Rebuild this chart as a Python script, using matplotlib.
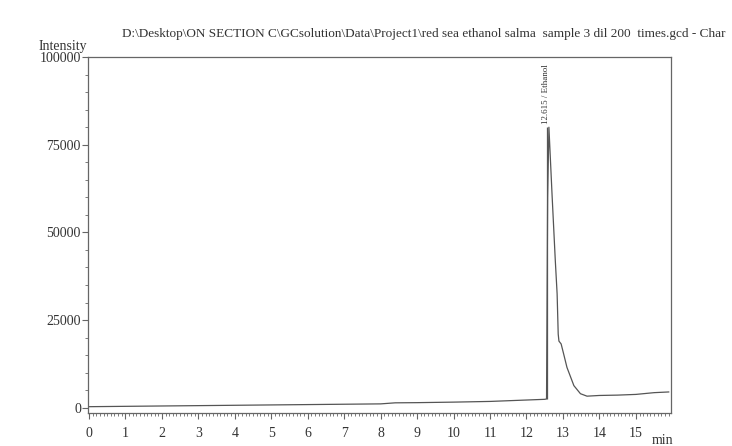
import matplotlib
matplotlib.use("Agg")
import matplotlib.pyplot as plt
from matplotlib.ticker import MultipleLocator

# chromatogram trace (time in min, intensity)
time_min = [0.0, 1.0, 2.0, 3.0, 4.0, 5.0, 6.0, 7.0, 8.0, 8.4, 9.0, 10.0, 11.0,
            12.0, 12.5, 12.55, 12.58, 12.615, 12.70, 12.79, 12.84, 12.87,
            12.89, 12.95, 13.02, 13.11, 13.30, 13.48, 13.66, 14.0, 14.5,
            15.0, 15.5, 15.9]
intensity = [300, 400, 500, 600, 700, 800, 900, 1000, 1100, 1400, 1450, 1600,
             1800, 2200, 2400, 2500, 60000, 80000, 61000, 42000, 32500, 21000,
             19000, 18200, 15300, 11500, 6300, 4000, 3300, 3500, 3600,
             3800, 4300, 4500]

peak_time = 12.615
peak_height = 80000
peak_name = "Ethanol"
marker_time = 12.55
marker_base = 2500

title = ("D:\\Desktop\\ON SECTION C\\GCsolution\\Data\\Project1\\red sea ethanol "
         "salma  sample 3 dil 200  times.gcd - Char")

serif = ["Liberation Serif", "DejaVu Serif"]
plt.rcParams["font.family"] = serif

fig = plt.figure(figsize=(7.32, 4.46), dpi=100)
ax = fig.add_axes([0.120, 0.074, 0.797, 0.798])

ax.plot(time_min, intensity, color="#555555", lw=0.9)
ax.vlines(marker_time, marker_base, peak_height, color="#555555", lw=0.9)
ax.annotate(f"{peak_time} / {peak_name}", xy=(peak_time, peak_height),
            xytext=(-2, 2), textcoords="offset points", rotation=90,
            ha="center", va="bottom", fontsize=6.5, color="#333333")

ax.set_xlim(-0.03, 15.97)
ax.set_ylim(-1500, 100000)

ax.set_xticks(range(0, 16))
ax.xaxis.set_minor_locator(MultipleLocator(0.1))
ax.set_yticks([0, 25000, 50000, 75000, 100000])
ax.yaxis.set_minor_locator(MultipleLocator(5000))
ax.tick_params(axis="both", which="major", direction="out", length=4,
               width=0.8, color="#666666", labelsize=10, labelcolor="#333333")
ax.tick_params(axis="both", which="minor", direction="out", length=2.5,
               width=0.6, color="#666666")
ax.tick_params(axis="x", which="major", pad=6)
ax.tick_params(axis="y", which="major", pad=1)

for s in ax.spines.values():
    s.set_color("#666666")
    s.set_linewidth(0.9)

fig.text(0.052, 0.881, "Intensity", fontsize=10, color="#333333",
         ha="left", va="bottom")
ax.text(0.985, -0.058, "min", transform=ax.transAxes, fontsize=10,
        color="#333333", ha="center", va="top")
fig.text(0.167, 0.910, title, fontsize=9.5, color="#333333",
         ha="left", va="bottom")

fig.savefig("out.png", dpi=100, facecolor="white")
